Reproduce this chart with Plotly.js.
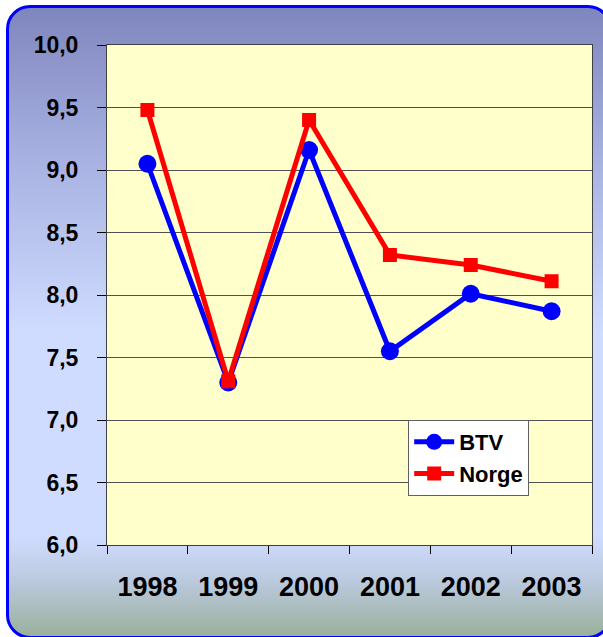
<!DOCTYPE html>
<html>
<head>
<meta charset="utf-8">
<script src="https://cdn.plot.ly/plotly-3.0.1.min.js"></script>
<style>
html,body{margin:0;padding:0;width:603px;height:637px;overflow:hidden;background:#fff;}
#bg{position:absolute;left:6px;top:5px;width:600px;height:628px;border:3px solid #0000FF;border-radius:24px;
background:linear-gradient(to bottom,#7F86BE 0%,#A9B3E3 25%,#D0DCFF 52%,#D0DCFF 84%,#BCCAE0 91%,#9AB09C 100%);}
#chart{position:absolute;left:0;top:0;width:603px;height:637px;}
</style>
</head>
<body>
<div id="bg"></div>
<div id="chart"></div>
<script>
const years = ['1998','1999','2000','2001','2002','2003'];
const btv = [9.05, 7.30, 9.16, 7.55, 8.01, 7.87];
const norge = [9.48, 7.31, 9.40, 8.32, 8.24, 8.11];
const yTicks = [6.0, 6.5, 7.0, 7.5, 8.0, 8.5, 9.0, 9.5, 10.0];

const traces = [
  {x: years, y: btv, name: 'BTV', type: 'scatter', mode: 'lines+markers',
   line: {color: '#0000FF', width: 5}, marker: {symbol: 'circle', size: 18, color: '#0000FF'}},
  {x: years, y: norge, name: 'Norge', type: 'scatter', mode: 'lines+markers',
   line: {color: '#FF0000', width: 5}, marker: {symbol: 'square', size: 14, color: '#FF0000'}}
];

const layout = {
  width: 603, height: 637,
  margin: {l: 107, r: 11, t: 45, b: 92},
  paper_bgcolor: 'rgba(0,0,0,0)',
  plot_bgcolor: '#FFFFCC',
  separators: ', ',
  font: {family: 'Arial, Liberation Sans, sans-serif', color: '#000'},
  showlegend: true,
  legend: {x: 0.621, y: 0.25, xanchor: 'left', yanchor: 'top',
    bgcolor: '#FFFFFF', bordercolor: '#606060', borderwidth: 1,
    font: {size: 22, weight: 'bold'}, tracegroupgap: 10, itemwidth: 40},
  xaxis: {type: 'category', range: [-0.5, 5.5], tickson: 'boundaries', ticks: 'outside', ticklen: 8, tickcolor: '#000',
    showgrid: false, showline: true, linecolor: '#404040', linewidth: 1, mirror: true,
    tickfont: {size: 27, weight: 'bold'}, ticklabelstandoff: 18, fixedrange: true},
  yaxis: {range: [6, 10], tickvals: yTicks, tickformat: '.1f', ticks: 'outside', ticklen: 9, tickcolor: '#000',
    showgrid: true, gridcolor: '#505050', gridwidth: 1, zeroline: false,
    showline: true, linecolor: '#404040', linewidth: 1, mirror: true,
    tickfont: {size: 23, weight: 'bold'}, ticklabelstandoff: 14, fixedrange: true}
};

Plotly.newPlot('chart', traces, layout, {displayModeBar: false, staticPlot: true});
</script>
</body>
</html>
